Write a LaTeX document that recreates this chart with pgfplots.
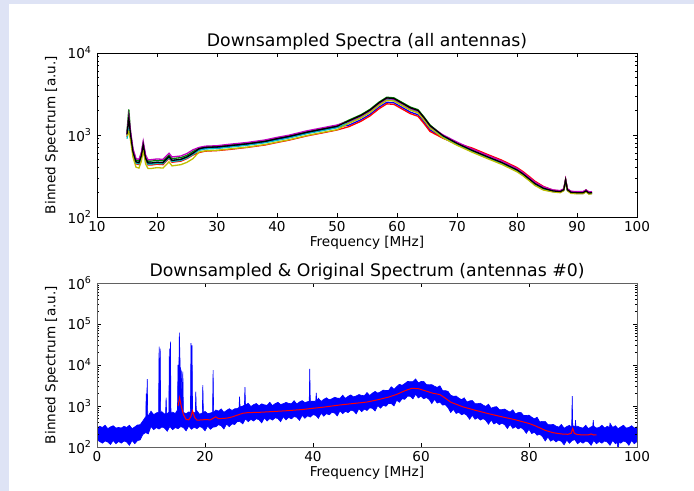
\documentclass[border=0pt]{standalone}
\usepackage{pgfplots}
\pgfplotsset{compat=1.18}
\usepackage{pgfplotstable}
\usepackage{fontspec}
\setmainfont{DejaVu Sans}
\definecolor{lav}{RGB}{222,227,245}
\definecolor{mplb}{RGB}{0,0,255}
\definecolor{mplg}{RGB}{0,128,0}
\definecolor{mplr}{RGB}{255,0,0}
\definecolor{mplc}{RGB}{0,191,191}
\definecolor{mplm}{RGB}{191,0,191}
\definecolor{mply}{RGB}{191,191,0}

\pgfplotstableread{
x base a0 a1 a2 a3 a4 a5 a6
15.0 1000 1000 1100 950 900 1050 980 1020
15.3 1600 1500 2050 1300 1200 1700 1100 1600
15.6 1000 1000 1050 950 970 1100 860 1000
16.0 620 620 650 590 600 680 535 620
16.5 470 470 495 445 455 515 405 470
17.0 460 460 485 435 445 505 395 460
17.4 560 560 590 530 545 615 480 560
17.7 760 760 800 720 735 835 655 760
18.1 520 520 545 495 505 570 445 520
18.5 455 455 480 430 440 500 390 455
19.0 455 455 480 430 440 500 390 455
20.0 465 465 490 440 450 510 400 465
21.0 460 460 485 435 445 505 395 460
22.0 545 545 570 520 530 600 470 545
22.5 490 490 515 465 475 540 420 490
24.0 505 505 530 480 490 555 435 505
25.0 540 540 565 515 525 595 465 540
26.0 600 600 630 570 580 660 515 600
27.0 665 665 690 610 650 705 620 680
28.0 690 690 720 635 675 730 640 705
30.0 700 700 730 645 685 740 650 715
32.0 725 725 755 665 710 770 675 740
35.0 765 765 795 705 750 810 710 780
38.0 820 820 855 755 805 870 765 835
40.0 880 880 915 810 860 935 820 900
42.0 940 940 980 865 920 995 875 960
45.0 1060 1060 1100 975 1040 1125 985 1080
48.0 1170 1170 1215 1075 1145 1240 1090 1195
50.0 1250 1250 1300 1150 1225 1325 1160 1275
52.0 1420 1320 1520 1265 1420 1465 1390 1490
54.0 1650 1535 1765 1470 1650 1700 1615 1735
55.5 1920 1785 2055 1710 1920 1980 1880 2015
57.0 2350 2185 2515 2090 2350 2420 2300 2470
58.3 2700 2510 2890 2400 2700 2780 2645 2835
59.5 2650 2465 2835 2360 2650 2730 2595 2780
61.0 2300 2140 2460 2045 2300 2370 2255 2415
62.2 2050 1905 2195 1825 2050 2110 2010 2150
63.5 1900 1765 2035 1690 1900 1955 1860 1995
64.5 1550 1440 1660 1380 1550 1595 1520 1630
65.5 1240 1155 1325 1105 1240 1275 1215 1300
67.7 960 920 975 910 935 1000 920 975
70.0 790 765 795 790 765 820 750 790
72.5 650 630 650 695 630 675 618 650
75.0 545 530 545 583 530 567 518 545
77.5 460 446 460 492 446 478 437 460
80.0 375 364 375 401 364 390 356 375
81.0 335 325 335 358 325 348 318 335
82.2 285 276 285 305 276 296 271 285
83.0 255 247 255 273 247 265 242 255
84.4 224 217 224 236 217 233 213 224
86.0 208 204 210 212 206 214 202 208
87.2 204 200 206 208 202 210 198 204
87.8 215 211 217 219 213 221 209 215
88.1 282 276 285 288 279 290 274 282
88.4 215 211 217 219 213 221 209 215
89.0 200 196 202 204 198 206 194 200
90.0 198 194 200 202 196 204 192 198
91.0 198 194 200 202 196 204 192 198
91.5 208 204 214 212 206 214 202 208
92.0 196 192 198 200 194 202 190 196
92.5 198 194 200 202 196 204 192 198
}\spectra

\begin{document}
\begin{tikzpicture}
\useasboundingbox (0bp,0bp) rectangle (694bp,491bp);
\fill[lav] (0bp,0bp) rectangle (694bp,491bp);
\fill[white] (9bp,0bp) rectangle (694bp,487bp);

\begin{axis}[
  at={(97bp,274bp)}, anchor=south west,
  scale only axis, width=540bp, height=164bp,
  ymode=log,
  tick align=inside, major tick length=4bp, minor tick length=2bp,
  axis line style={line width=0.9bp, black},
  tick style={line width=0.6bp, black},
  tick label style={font=\fontsize{13.6bp}{16bp}\selectfont},
  xlabel style={font=\fontsize{13.6bp}{16bp}\selectfont, at={(axis description cs:0.5,-0.177)}, anchor=base},
  ylabel style={font=\fontsize{13.6bp}{16bp}\selectfont, at={(axis description cs:-0.084,0.5)}, anchor=center},
  title style={font=\fontsize{17.3bp}{20bp}\selectfont, at={(axis description cs:0.5,1.038)}, anchor=base, yshift=-6pt},
  /pgf/number format/assume math mode=true,
  yticklabel style={xshift=-2bp},
  xticklabel style={yshift=-1bp},
  xlabel={Frequency [MHz]}, ylabel={Binned Spectrum [a.u.]},
  axis on top,
  title={Downsampled Spectra (all antennas)},
  xmin=10, xmax=100, xtick={10,20,...,100},
  ymin=100, ymax=10000, ytick={100,1000,10000},
  yticklabels={10\textsuperscript{2},10\textsuperscript{3},10\textsuperscript{4}},
]
\addplot[mplb, line width=1.3bp] table[x=x,y=a0] {\spectra};
\addplot[mplg, line width=1.3bp] table[x=x,y=a1] {\spectra};
\addplot[mplr, line width=1.3bp] table[x=x,y=a2] {\spectra};
\addplot[mplc, line width=1.3bp] table[x=x,y=a3] {\spectra};
\addplot[mplm, line width=1.3bp] table[x=x,y=a4] {\spectra};
\addplot[mply, line width=1.3bp] table[x=x,y=a5] {\spectra};
\addplot[black, line width=1.3bp] table[x=x,y=a6] {\spectra};
\end{axis}

\begin{axis}[
  at={(97bp,44bp)}, anchor=south west,
  scale only axis, width=540bp, height=164bp,
  ymode=log,
  tick align=inside, major tick length=4bp, minor tick length=2bp,
  axis line style={line width=0.9bp, black!62},
  tick style={line width=0.6bp, black},
  tick label style={font=\fontsize{13.6bp}{16bp}\selectfont},
  xlabel style={font=\fontsize{13.6bp}{16bp}\selectfont, at={(axis description cs:0.5,-0.177)}, anchor=base},
  ylabel style={font=\fontsize{13.6bp}{16bp}\selectfont, at={(axis description cs:-0.084,0.5)}, anchor=center},
  title style={font=\fontsize{17.3bp}{20bp}\selectfont, at={(axis description cs:0.5,1.038)}, anchor=base, yshift=-6pt},
  /pgf/number format/assume math mode=true,
  yticklabel style={xshift=-2bp},
  xticklabel style={yshift=-1bp},
  xlabel={Frequency [MHz]}, ylabel={Binned Spectrum [a.u.]},
  axis on top,
  title={Downsampled \& Original Spectrum (antennas \#0)},
  xmin=0, xmax=100, xtick={0,20,...,100},
  ymin=100, ymax=1000000, ytick={100,1000,10000,100000,1000000},
  yticklabels={10\textsuperscript{2},10\textsuperscript{3},10\textsuperscript{4},10\textsuperscript{5},10\textsuperscript{6}},
]
% original spectrum: noisy band drawn between its upper and lower envelopes
\addplot[draw=mplb, fill=mplb, line width=0.6bp, line join=miter] coordinates {
(0.0,290) (0.5,320) (1.0,300) (1.5,340) (2.0,280) (2.5,310) (3.0,330) (3.5,290)
(4.0,300) (4.5,290) (5.0,320) (5.5,300) (6.0,340) (6.5,280) (7.0,310) (7.5,345)
(8.0,350) (8.5,435) (9.0,545) (9.05,550) (9.1,2000) (9.2,1000) (9.3,4500) (9.4,600)
(9.5,570) (10.0,750) (10.5,615) (11.0,680) (11.4,700) (11.5,28000) (11.6,900) (11.7,25000)
(11.8,700) (12.0,726) (12.5,640) (12.7,650) (12.8,1600) (12.9,650) (13.0,660) (13.3,700)
(13.4,25000) (13.5,1500) (13.6,37000) (13.7,700) (14.0,704) (14.5,660) (14.9,800) (15.0,10000)
(15.1,1500) (15.25,62000) (15.4,9000) (15.6,7000) (15.75,1500) (15.9,6900) (16.0,700) (16.5,650)
(17.0,720) (17.3,700) (17.4,34000) (17.5,2000) (17.6,30000) (17.7,700) (18.0,700) (18.2,700)
(18.3,2240) (18.4,700) (18.5,765) (19.0,630) (19.5,680) (19.6,3250) (19.7,680) (20.0,740)
(20.5,650) (21.0,675) (21.4,700) (21.5,7500) (21.6,700) (22.0,800) (22.5,750) (23.0,850)
(23.5,700) (24.0,780) (24.5,860) (25.0,780) (25.5,855) (26.0,870) (26.3,920) (26.4,1690)
(26.5,950) (27.0,1000) (27.3,1050) (27.4,2880) (27.5,1050) (28.0,1170) (28.5,970) (29.0,1080)
(29.5,1150) (30.0,1015) (30.5,1130) (31.0,1068) (31.5,1041) (32.0,1233) (32.5,1023) (33.0,1144)
(33.5,1229) (34.0,1090) (34.5,1137) (35.0,1224) (35.5,1161) (36.0,1135) (36.5,1346) (37.0,1121)
(37.5,1256) (38.0,1353) (38.5,1211) (39.0,1275) (39.3,1300) (39.4,8000) (39.5,1300) (40.0,1320)
(40.5,1298) (40.6,2100) (40.7,1350) (41.0,1547) (41.5,1295) (42.0,1457) (42.5,1584) (43.0,1421)
(43.5,1500) (44.0,1632) (44.5,1560) (45.0,1537) (45.5,1833) (46.0,1533) (46.5,1724) (47.0,1865)
(47.5,1668) (48.0,1755) (48.5,1904) (49.0,1815) (49.5,1784) (50.0,2125) (50.5,1806) (51.0,2062)
(51.5,2269) (52.0,2059) (52.5,2213) (53.0,2448) (53.5,2385) (54.0,2393) (54.5,2950) (55.0,2548)
(55.5,2976) (56.0,3383) (56.5,3190) (57.0,3525) (57.5,3968) (58.0,3930) (58.5,3915) (59.0,4573)
(59.5,3668) (60.0,3953) (60.5,3993) (61.0,3335) (61.5,3285) (62.0,3328) (62.5,3030) (63.0,2842)
(63.5,3111) (64.0,2380) (64.5,2372) (65.0,2277) (65.5,1827) (66.0,1725) (66.5,1752) (67.0,1560)
(67.5,1428) (68.0,1581) (68.5,1253) (69.0,1333) (69.5,1361) (70.0,1146) (70.5,1140) (71.0,1168)
(71.5,1053) (72.0,979) (72.5,1108) (73.0,882) (73.5,941) (74.0,965) (74.5,819) (75.0,818)
(75.5,843) (76.0,765) (76.5,713) (77.0,808) (77.5,644) (78.0,690) (78.5,701) (79.0,587)
(79.5,585) (80.0,600) (80.5,533) (81.0,486) (81.5,532) (82.0,409) (82.5,423) (83.0,421)
(83.5,352) (84.0,348) (84.5,357) (85.0,323) (85.5,306) (86.0,354) (86.5,288) (87.0,316)
(87.5,338) (87.9,300) (88.0,1750) (88.1,330) (88.5,315) (88.55,320) (88.6,450) (88.7,320)
(89.0,320) (89.5,300) (90.0,290) (90.5,340) (91.0,280) (91.5,310) (91.8,320) (91.9,450)
(92.0,320) (92.5,290) (93.0,300) (93.5,340) (94.0,290) (94.5,320) (94.9,300) (95.0,380)
(95.5,300) (96.0,330) (96.5,280) (97.0,310) (97.5,340) (98.0,290) (98.5,300) (99.0,330)
(99.5,290) (100.0,310)
(100.0,136) (99.5,120) (99.0,144) (98.5,110) (98.0,132) (97.5,140) (97.0,124) (96.7,136)
(96.5,85) (96.3,130) (96.0,120) (95.5,144) (95.0,110) (94.5,132) (94.0,140) (93.5,124)
(93.0,136) (92.5,120) (92.0,144) (91.5,110) (91.0,132) (90.5,140) (90.0,124) (89.5,136)
(89.0,120) (88.5,150) (88.0,145) (87.5,123) (87.0,147) (86.5,113) (86.0,137) (85.5,148)
(85.0,133) (84.5,152) (84.0,139) (83.5,175) (83.0,140) (82.5,180) (82.0,204) (81.5,194)
(81.0,228) (80.5,213) (80.0,270) (79.5,215) (79.0,267) (78.5,298) (78.0,276) (77.5,313)
(77.0,285) (76.5,354) (76.0,281) (75.5,348) (75.0,382) (74.5,350) (74.0,398) (73.5,364)
(73.0,454) (72.5,359) (72.0,446) (71.5,491) (71.0,453) (70.5,517) (70.0,474) (69.5,594)
(69.0,473) (68.5,591) (68.0,651) (67.5,611) (67.0,707) (66.5,657) (66.0,828) (65.5,693)
(65.0,911) (64.5,1071) (64.0,1054) (63.5,1244) (63.0,1176) (62.5,1454) (62.0,1144) (61.5,1445)
(61.0,1610) (60.5,1500) (60.0,1734) (59.5,1572) (59.0,1937) (58.5,1485) (58.0,1729) (57.5,1736)
(57.0,1457) (56.5,1496) (56.0,1230) (55.5,1382) (55.0,1001) (54.5,1145) (54.0,1155) (53.5,986)
(53.0,1040) (52.5,885) (52.0,1022) (51.5,756) (51.0,878) (50.5,903) (50.0,775) (49.5,836)
(49.0,726) (48.5,857) (48.0,644) (47.5,759) (47.0,791) (46.5,689) (46.0,745) (45.5,647)
(45.0,763) (44.5,572) (44.0,673) (43.5,700) (43.0,608) (42.5,653) (42.0,564) (41.5,666)
(41.0,501) (40.5,591) (40.0,616) (39.5,537) (39.0,578) (38.5,501) (38.0,590) (37.5,446)
(37.0,529) (36.5,554) (36.0,485) (35.5,526) (35.0,459) (34.5,546) (34.0,414) (33.5,492)
(33.0,517) (32.5,453) (32.0,493) (31.5,431) (31.0,513) (30.5,388) (30.0,462) (29.5,489)
(29.0,431) (28.5,471) (28.0,414) (27.5,486) (27.0,366) (26.5,416) (26.0,420) (25.5,353)
(25.0,367) (24.5,312) (24.0,364) (23.5,275) (23.0,330) (22.5,350) (22.0,310) (21.5,306)
(21.0,270) (20.5,324) (20.0,248) (19.5,297) (19.0,315) (18.5,279) (18.0,306) (17.5,270)
(17.0,324) (16.5,248) (16.0,297) (15.5,315) (15.0,279) (14.5,299) (14.0,264) (13.5,317)
(13.0,242) (12.5,290) (12.0,308) (11.5,273) (11.0,299) (10.5,264) (10.0,317) (9.5,209)
(9.0,224) (8.5,203) (8.0,149) (7.5,143) (7.0,120) (6.5,144) (6.0,110) (5.5,132)
(5.0,140) (4.5,124) (4.0,136) (3.5,120) (3.0,144) (2.5,115) (2.0,132) (1.5,140)
(1.0,124) (0.5,136) (0.0,150)
};
\addplot[mplr, line width=1bp] table[x=x,y=base] {\spectra};
\end{axis}
\end{tikzpicture}
\end{document}
